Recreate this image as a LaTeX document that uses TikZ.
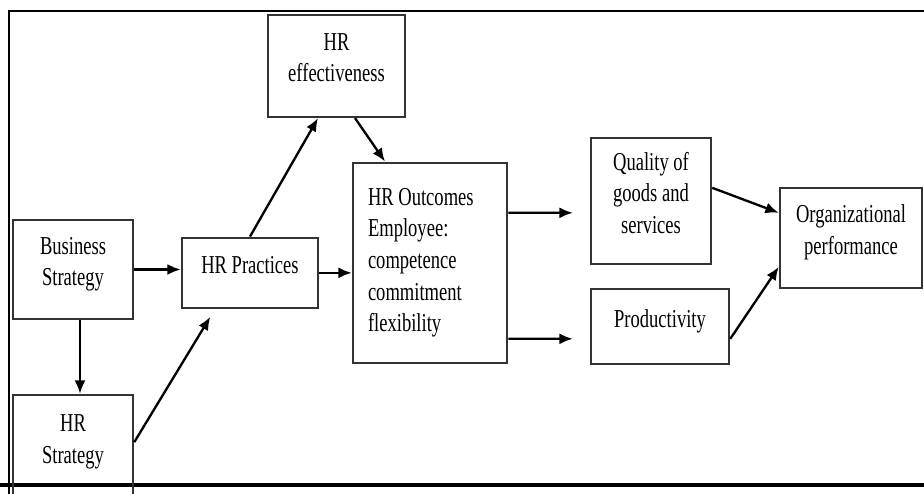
\documentclass[tikz,border=0pt]{standalone}
\usepackage{fontspec}
\setmainfont{Liberation Serif}[FakeStretch=0.72]
\usetikzlibrary{arrows.meta, positioning}

\tikzset{
  box/.style={draw=black!80, line width=0.75mm, align=center, text depth=14pt,
    font=\fontsize{22}{27}\selectfont},
  link/.style={-{Latex[length=4mm,width=3.3mm]}, line width=0.7mm},
}

\begin{document}
\begin{tikzpicture}[x=0.3mm, y=0.3mm, on grid]
  \useasboundingbox (0,0) rectangle (924,494);
  \clip (0,0) rectangle (924,494);

  % frame around the model
  \draw[line width=0.75mm] (9,0) -- (9,483) -- (924,483);
  \draw[line width=1mm] (0,9) -- (924,9);

  \node[box, minimum width=36mm, minimum height=29.7mm] (bstrat) at (73,224.5) {Business\\Strategy};
  \node[box, minimum width=40.8mm, minimum height=21mm] (hrprac) [right=53.1mm of bstrat, yshift=-1mm] {HR Practices};
  \node[box, minimum width=36mm, minimum height=31.5mm] (hrstrat) [below=53.4mm of bstrat] {HR\\Strategy};
  \node[box, minimum width=41.1mm, minimum height=30.6mm] (reff) [above=62.1mm of hrprac, xshift=25.95mm] {HR\\effectiveness};
  \node[box, align=flush left, text width=37.2mm, text depth=, minimum width=46.2mm, minimum height=60mm] (hrout) [right=54mm of hrprac, yshift=3mm]
    {HR Outcomes\\Employee:\\competence\\commitment\\flexibility};
  \node[box, minimum width=36mm, minimum height=37.8mm] (quality) [right=66.3mm of hrout, yshift=18.6mm] {Quality of\\goods and\\services};
  \node[box, minimum width=41.4mm, minimum height=22.5mm] (prod) [below=37.65mm of quality, xshift=2.7mm] {Productivity};
  \node[box, minimum width=42.6mm, minimum height=30mm] (orgperf) [right=60mm of quality, yshift=-11.1mm] {Organizational\\performance};

  \path[link]
    (bstrat.east) edge (bstrat.east -| hrprac.west)
    ([xshift=2.1mm]bstrat.south) edge ([xshift=2.1mm]hrstrat.north)
    ([yshift=1.6mm]hrstrat.east) edge[shorten >=2.7mm] ([xshift=-10.5mm]hrprac.south)
    (hrprac.north) edge ([xshift=-5.55mm]reff.south)
    ([xshift=5.55mm]reff.south) edge ([xshift=-13.5mm]hrout.north)
    (hrprac.east) edge (hrprac.east -| hrout.west)
    ([yshift=15mm]hrout.east) edge[shorten >=5.1mm] ([yshift=-3.6mm]quality.west)
    ([yshift=-22.8mm]hrout.east) edge[shorten >=5.1mm] ([yshift=-3.75mm]prod.west)
    ([yshift=3.9mm]quality.east) edge ([yshift=7.5mm]orgperf.west)
    ([yshift=-3.75mm]prod.east) edge ([yshift=-8.7mm]orgperf.west);
\end{tikzpicture}
\end{document}
